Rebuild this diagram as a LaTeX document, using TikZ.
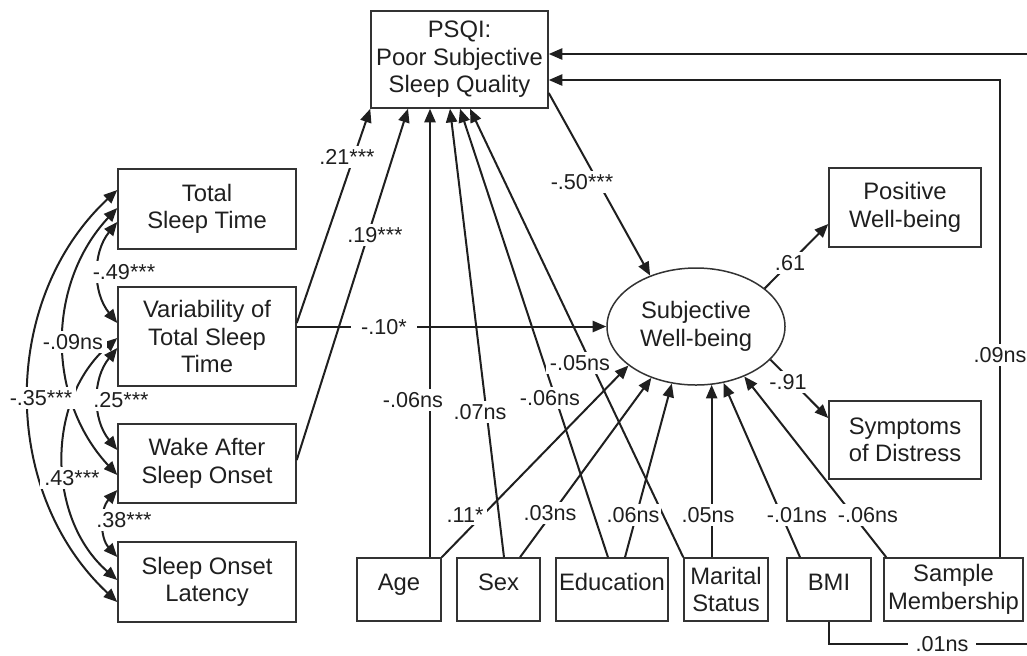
\documentclass[tikz,border=0pt]{standalone}
\usepackage{fontspec}
\setmainfont{Liberation Sans}
\usetikzlibrary{arrows.meta,shapes.geometric}
\begin{document}
\begin{tikzpicture}[x=0.5pt,y=-0.5pt,
  box/.style={draw=black!80,line width=0.75pt,inner sep=0pt,align=center,font=\fontsize{11.9}{13.7}\selectfont,text=black!88},
  arr/.style={draw=black!88,line width=1pt,-{Triangle[length=6.8pt,width=5.6pt]}},
  darr/.style={draw=black!88,line width=1pt,{Triangle[length=6.8pt,width=5.6pt]}-{Triangle[length=6.8pt,width=5.6pt]}},
  plain/.style={draw=black!88,line width=1pt},
  lbl/.style={fill=white,inner xsep=2pt,inner ysep=1.5pt,font=\fontsize{10.8}{12}\selectfont,text=black!88},
  one/.style={text height=8.5pt,text depth=7.5pt},
]
\useasboundingbox (0,0) rectangle (1027,655);
% boxes
\node[box,minimum width=88.5pt,minimum height=48.5pt] (psqi) at (459.5,59.5) {PSQI:\\Poor Subjective\\Sleep Quality};
\node[box,minimum width=89pt,minimum height=40pt] (tst) at (207,209) {Total\\Sleep Time};
\node[box,minimum width=89pt,minimum height=49.5pt] (var) at (207,336.5) {Variability of\\Total Sleep\\Time};
\node[box,minimum width=89pt,minimum height=39.5pt] (waso) at (207,463.5) {Wake After\\Sleep Onset};
\node[box,minimum width=89pt,minimum height=40pt] (sol) at (207,582) {Sleep Onset\\Latency};
\node[box,minimum width=76pt,minimum height=39.5pt] (pos) at (905,207.5) {Positive\\Well-being};
\node[box,minimum width=76pt,minimum height=39pt] (sym) at (905,440) {Symptoms\\of Distress};
\node[box,ellipse,minimum width=89pt,minimum height=58.5pt] (swb) at (696,326.5) {Subjective\\Well-being};
\node[box,one,minimum width=42pt,minimum height=31.5pt] (age) at (399,589.5) {Age};
\node[box,one,minimum width=41.5pt,minimum height=31.5pt] (sex) at (498.5,589.5) {Sex};
\node[box,one,minimum width=56pt,minimum height=31.5pt] (edu) at (612,589.5) {Education};
\node[box,minimum width=42pt,minimum height=31.5pt] (mar) at (726,589.5) {Marital\\Status};
\node[box,one,minimum width=42pt,minimum height=31.5pt] (bmi) at (829,589.5) {BMI};
\node[box,minimum width=69.5pt,minimum height=31.5pt] (samp) at (953.5,589.5) {Sample\\Membership};
\coordinate (topin) at (1027,54);
\coordinate (botend) at (1027,644);
% paths to PSQI
\draw[arr] ([yshift=6.75pt]var.east) -- (psqi.south west);
\draw[arr] ([yshift=1.75pt]waso.east) -- ([xshift=-25.75pt]psqi.south);
\draw[arr] ([xshift=15.5pt]age.north) -- ([xshift=15.5pt]age.north |- psqi.south);
\draw[arr] ([xshift=2.75pt]sex.north) -- ([xshift=-4.75pt]psqi.south);
\draw[arr] ([xshift=-2pt]edu.north) -- ([xshift=0.25pt]psqi.south);
\draw[arr] (mar.north west) -- ([xshift=5.25pt]psqi.south);
\draw[arr] (topin) -- ([yshift=2.75pt]psqi.east);
\draw[arr] ([xshift=23.25pt]samp.north) |- ([yshift=-10.25pt]psqi.east);
% paths to SWB
\draw[arr] (var.east |- swb.west) -- (swb.west);
\draw[arr] ([yshift=-16.75pt]psqi.east) -- (swb.132);
\draw[arr] (age.north east) -- (swb.210);
\draw[arr] ([xshift=10.75pt]sex.north) -- (swb.229);
\draw[arr] ([xshift=6.5pt]edu.north) -- (swb.247);
\draw[arr] (swb.285.6 |- mar.north) -- (swb.285.6);
\draw[arr] ([xshift=-14.5pt]bmi.north) -- (swb.296);
\draw[arr] ([xshift=1.5pt]samp.north west) -- (swb.314);
% outcomes
\draw[arr] (swb.29) -- ([yshift=-8.25pt]pos.west);
\draw[arr] (swb.336.5) -- ([yshift=11pt]sym.west);
% BMI - sample
\draw[plain] (bmi.south) |- (botend);
% covariances
\draw[darr] ([yshift=9.5pt]tst.west) to[out=223,in=137] ([yshift=-10pt]sol.west);
\draw[darr] ([yshift=0.5pt]tst.west) to[out=227,in=133] ([yshift=-5.75pt]waso.west);
\draw[darr] ([yshift=-0.75pt]var.west) to[out=221,in=139] ([yshift=1pt]sol.west);
\draw[darr] ([yshift=-6.5pt]tst.west) to[out=231,in=129] ([yshift=6.75pt]var.west);
\draw[darr] ([yshift=-5.75pt]var.west) to[out=231,in=129] ([yshift=6.75pt]waso.west);
\draw[darr] ([yshift=-13.25pt]waso.west) to[out=228,in=132] ([yshift=12.5pt]sol.west);
% labels
\node[lbl] (l21) at (347,157) {.21***};
\node[lbl] (l19) at (375,235) {.19***};
\node[lbl,inner xsep=5pt] (l10) at (384,327) {-.10*};
\node[lbl] (l50) at (582,182) {-.50***};
\node[lbl] (l61) at (790,263) {.61};
\node[lbl] (l91) at (788,382) {-.91};
\node[lbl] (lage) at (413,400) {-.06ns};
\node[lbl] (lsex) at (480,412) {.07ns};
\node[lbl] (ledu) at (550,398) {-.06ns};
\node[lbl] (lmar) at (580,363) {-.05ns};
\node[lbl] (lage2) at (465,515) {.11*};
\node[lbl] (lsex2) at (550,513) {.03ns};
\node[lbl,inner xsep=1pt] (ledu2) at (633,515) {.06ns};
\node[lbl] (lmar2) at (708,515) {.05ns};
\node[lbl] (lbmi2) at (797,515) {-.01ns};
\node[lbl] (lsamp2) at (868,515) {-.06ns};
\node[lbl] (lsamp) at (1000,355) {.09ns};
\node[lbl,inner xsep=4pt] (lbs) at (942,644) {.01ns};
\node[lbl] (c49) at (124,272) {-.49***};
\node[lbl] (c09) at (73,342) {-.09ns};
\node[lbl] (c35) at (41,398) {-.35***};
\node[lbl] (c25) at (121,400) {.25***};
\node[lbl] (c43) at (72,478) {.43***};
\node[lbl] (c38) at (124,520) {.38***};
\end{tikzpicture}
\end{document}
